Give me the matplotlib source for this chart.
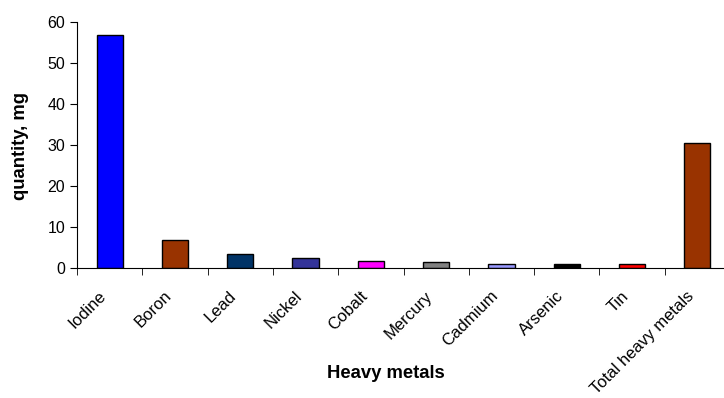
import matplotlib
matplotlib.use("Agg")
import matplotlib.pyplot as plt
import matplotlib.transforms as mtransforms
import numpy as np

plt.rcParams['font.family'] = ['Liberation Sans', 'DejaVu Sans']

metals = ["Iodine", "Boron", "Lead", "Nickel", "Cobalt", "Mercury",
          "Cadmium", "Arsenic", "Tin", "Total heavy metals"]
quantity = [56.8, 6.8, 3.4, 2.4, 1.7, 1.4, 1.05, 1.0, 1.0, 30.6]
bar_colors = ["#0000FF", "#993300", "#003366", "#333399", "#FF00FF",
              "#808080", "#9999FF", "#000000", "#FF0000", "#993300"]

fig = plt.figure(figsize=(7.24, 3.98), dpi=100)
ax = fig.add_axes([77/724, 130/398, 653/724, 246/398])

x = np.arange(len(metals))
ax.bar(x, quantity, width=0.4, color=bar_colors, edgecolor="black", linewidth=1)

ax.set_xlim(-0.5, len(metals) - 0.5)
ax.set_ylim(0, 60)
ax.set_yticks(np.arange(0, 61, 10))
ax.tick_params(axis="y", labelsize=11.5, length=5, direction="out")

# labels at bar centres, tick marks between categories
ax.set_xticks(x)
ax.set_xticklabels(metals, rotation=45, ha="right", va="center",
                   rotation_mode="anchor", fontsize=12)
ax.tick_params(axis="x", which="major", length=0, pad=14)
shift = mtransforms.ScaledTranslation(-0.06, -0.06, fig.dpi_scale_trans)
for lab in ax.get_xticklabels():
    lab.set_transform(lab.get_transform() + shift)
ax.set_xticks(np.arange(-0.5, len(metals), 1), minor=True)
ax.tick_params(axis="x", which="minor", length=5, direction="out")

for side in ["top", "right"]:
    ax.spines[side].set_visible(False)

ax.set_xlabel("Heavy metals", fontsize=13.3, fontweight="bold", va="center")
ax.xaxis.set_label_coords((386 - 77) / 653, -(373 - 268) / 246)
ax.set_ylabel("quantity, mg", fontsize=13.3, fontweight="bold", va="center")
ax.yaxis.set_label_coords(-(77 - 21) / 653, (268 - 146) / 246)

fig.savefig("out.png", dpi=100)
